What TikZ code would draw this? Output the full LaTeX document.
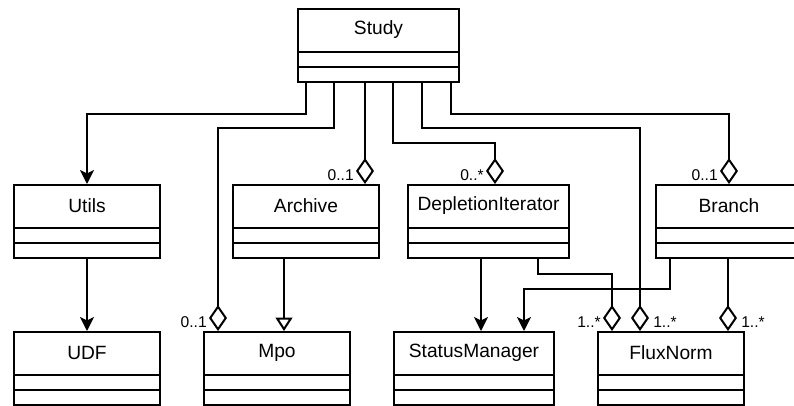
\documentclass[tikz,border=0pt]{standalone}
\usepackage{fontspec}
\setmainfont{Liberation Sans}
\usetikzlibrary{arrows.meta,calc}

\tikzset{
  classbox/.style={draw, line width=1.5pt, fill=white, inner sep=0pt,
    anchor=north west, minimum height=73*0.75pt},
  classname/.style={inner sep=0pt, font=\fontsize{14.4}{17}\selectfont},
  classline/.style={line width=1.5pt},
  mult/.style={inner sep=0pt, font=\fontsize{11.7}{14}\selectfont},
  conn/.style={line width=1.5pt, line join=miter},
  assocline/.style={conn, -{Stealth[length=10.5pt, width=10.5pt, inset=2.6pt]}},
  aggline/.style={conn, -{Diamond[open, length=19.5pt, width=13.5pt, fill=white]}},
  genline/.style={conn, -{Triangle[open, length=10pt, width=12.5pt, fill=white]}},
}

% A UML class box: id, left x, top y, width, class name
\newcommand{\umlclass}[5]{%
  \node[classbox, minimum width=#4*0.75pt] (#1) at (#2,#3) {};
  \node[classname] (#1-name) at ($(#1.north)+(0,22)$) {#5};
  \draw[classline] ($(#1.north west)+(0,44)$) -- ($(#1.north east)+(0,44)$);
  \draw[classline] ($(#1.north west)+(0,59)$) -- ($(#1.north east)+(0,59)$);
}

\begin{document}
\begin{tikzpicture}[x=0.75pt, y=-0.75pt]
  \useasboundingbox (0,0) rectangle (794,405);
  \clip (0,0) rectangle (794,405);

  % classes
  \umlclass{study}{297}{8}{161}{Study}
  \umlclass{utils}{13}{184}{146}{Utils}
  \umlclass{archive}{232}{184}{146}{Archive}
  \umlclass{depl}{407}{184}{161}{DepletionIterator}
  \umlclass{branch}{655}{184}{146}{Branch}
  \umlclass{udf}{13}{331}{146}{UDF}
  \umlclass{mpo}{203}{331}{146}{Mpo}
  \umlclass{status}{393}{331}{160}{StatusManager}
  \umlclass{flux}{597}{331}{146}{FluxNorm}

  % attachment points on the target classes
  \coordinate (mpoT)   at ($(mpo.north west)+(15,0)$);
  \coordinate (mpoG)   at ($(mpo.north west)+(81,0)$);
  \coordinate (archT)  at ($(archive.north east)+(-15,0)$);
  \coordinate (diT)    at ($(depl.north west)+(88,0)$);
  \coordinate (smA)    at ($(status.north west)+(88,0)$);
  \coordinate (smB)    at ($(status.north west)+(131,0)$);
  \coordinate (fnA)    at ($(flux.north west)+(43,0)$);
  \coordinate (fnB)    at ($(flux.north west)+(15,0)$);
  \coordinate (fnC)    at ($(flux.north west)+(131,0)$);

  % connectors leaving Study
  \draw[assocline] ($(study.south west)+(9,0)$) -- ++(0,31) -| (utils.north);
  \draw[aggline] ($(study.south west)+(37,0)$) -- ++(0,45) -| (mpoT);
  \draw[aggline] (archT |- study.south) -- (archT);
  \draw[aggline] ($(study.south west)+(96,0)$) -- ++(0,60) -| (diT);
  \draw[aggline] ($(study.south west)+(125,0)$) -- ++(0,45) -| (fnA);
  \draw[aggline] ($(study.south west)+(154,0)$) -- ++(0,31) -| (branch.north);

  % connectors between the lower classes
  \draw[assocline] (udf.north |- utils.south) -- (udf.north);
  \draw[genline] (mpoG |- archive.south) -- (mpoG);
  \draw[assocline] (smA |- depl.south) -- (smA);
  \draw[aggline] ($(depl.south west)+(131,0)$) -- ++(0,15) -| (fnB);
  \draw[assocline] ($(branch.south west)+(15,0)$) -- ++(0,30) -| (smB);
  \draw[aggline] (fnC |- branch.south) -- (fnC);

  % multiplicities
  \node[mult, anchor=base east] (mArch)  at ($(archT)+(-11,-4)$) {0..1};
  \node[mult, anchor=base east] (mMpo)   at ($(mpoT)+(-11,-4)$) {0..1};
  \node[mult, anchor=base east] (mDepl)  at ($(diT)+(-11,-4)$) {0..*};
  \node[mult, anchor=base east] (mBr)    at ($(branch.north)+(-11,-4)$) {0..1};
  \node[mult, anchor=base east] (mFnB)   at ($(fnB)+(-11,-4)$) {1..*};
  \node[mult, anchor=base west] (mFnA)   at ($(fnA)+(13,-4)$) {1..*};
  \node[mult, anchor=base west] (mFnC)   at ($(fnC)+(13,-4)$) {1..*};
\end{tikzpicture}
\end{document}
